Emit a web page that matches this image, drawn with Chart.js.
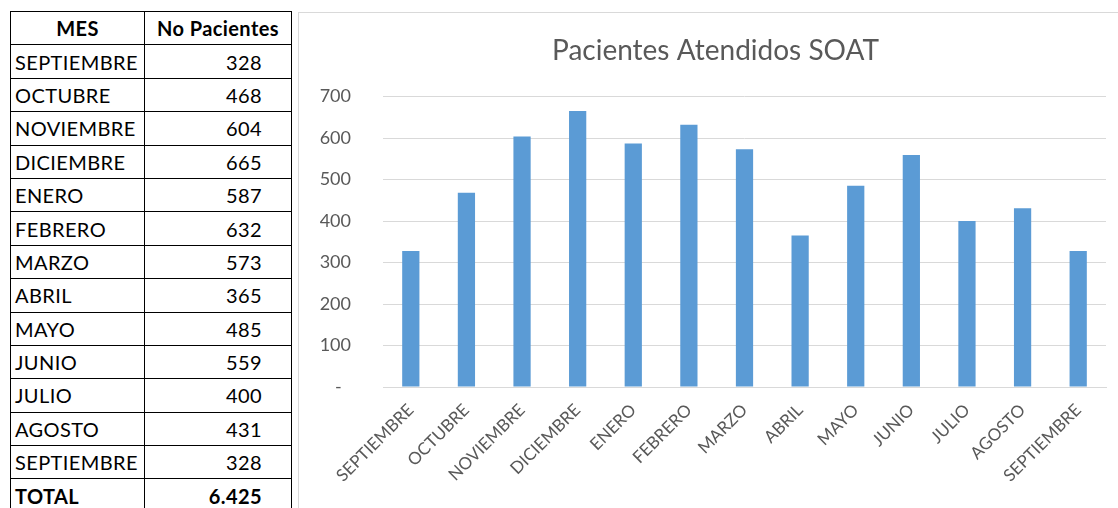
<!DOCTYPE html>
<html>
<head>
<meta charset="utf-8">
<script src="https://cdn.jsdelivr.net/npm/chart.js@4"></script>
<style>
  body { margin: 0; background: #fff; width: 1118px; height: 508px; overflow: hidden; position: relative; font-family: Lato, "Open Sans", sans-serif; }
  #tabla { position: absolute; left: 10px; top: 11px; border-collapse: collapse; font-size: 20px; letter-spacing: 0.4px; color: #000; }
  #tabla td, #tabla th { border: 1px solid #000; height: 33.4px; padding: 0 4px; box-sizing: border-box; line-height: 1; }
  #tabla th { font-weight: bold; text-align: center; }
  #tabla td.mes { width: 134px; text-align: left; }
  #tabla td.num { width: 147px; text-align: right; padding-right: 29px; }
  #tabla tr.total td { font-weight: bold; }
  #marco { position: absolute; left: 298px; top: 12px; width: 820px; height: 496px; border-left: 1px solid #d9d9d9; border-top: 1px solid #d9d9d9; box-sizing: border-box; }
</style>
</head>
<body>

<table id="tabla">
  <thead>
    <tr><th>MES</th><th>No Pacientes</th></tr>
  </thead>
  <tbody id="filas"></tbody>
</table>

<div id="marco">
  <canvas id="grafico" width="819" height="495"></canvas>
</div>

<script>
// =========================
// DATOS
// =========================

const meses = [
  'SEPTIEMBRE', 'OCTUBRE', 'NOVIEMBRE', 'DICIEMBRE', 'ENERO', 'FEBRERO',
  'MARZO', 'ABRIL', 'MAYO', 'JUNIO', 'JULIO', 'AGOSTO', 'SEPTIEMBRE'
];

const pacientes = [
  328, 468, 604, 665, 587, 632,
  573, 365, 485, 559, 400, 431, 328
];

const yMin = 0;
const yMax = 700;
const yPaso = 100;

const titulo = 'Pacientes Atendidos SOAT';


// =========================
// TABLA
// =========================

const filas = document.getElementById('filas');

meses.forEach((mes, i) => {
  filas.innerHTML +=
    '<tr><td class="mes">' + mes + '</td>' +
    '<td class="num">' + pacientes[i] + '</td></tr>';
});

const total = pacientes.reduce((a, b) => a + b, 0);

filas.innerHTML +=
  '<tr class="total"><td class="mes">TOTAL</td>' +
  '<td class="num">' + total.toLocaleString('de-DE') + '</td></tr>';


// =========================
// GRAFICO
// =========================

const fuente = 'Lato, "Open Sans", sans-serif';

// corre el titulo un poco a la derecha, como en la hoja
const moverTitulo = {
  id: 'moverTitulo',
  afterLayout(chart) {
    if (chart.titleBlock) chart.titleBlock.left += 26;
  }
};

new Chart(document.getElementById('grafico'), {

  type: 'bar',

  data: {
    labels: meses,
    datasets: [{
      data: pacientes,
      backgroundColor: '#5b9bd5',
      barPercentage: 0.31,
      categoryPercentage: 1
    }]
  },

  plugins: [moverTitulo],

  options: {
    responsive: false,
    animation: false,
    layout: { padding: { left: 0, right: 12, top: 0, bottom: 0 } },
    plugins: {
      legend: { display: false },
      tooltip: { enabled: false },
      title: {
        display: true,
        text: titulo,
        color: '#595959',
        font: { family: fuente, size: 28, weight: 'normal' },
        padding: { top: 21, bottom: 29 }
      }
    },
    scales: {
      x: {
        grid: { display: false },
        border: { display: true, color: '#d9d9d9', width: 1 },
        ticks: {
          color: '#595959',
          font: { family: fuente, size: 17 },
          minRotation: 45,
          maxRotation: 45,
          padding: 5,
          autoSkip: false
        },
        afterFit: scale => { scale.height = 121; }
      },
      y: {
        min: yMin,
        max: yMax,
        grid: { color: '#d9d9d9', drawTicks: false },
        border: { display: false },
        ticks: {
          stepSize: yPaso,
          color: '#595959',
          font: { family: fuente, size: 18 },
          padding: 32,
          callback: v => v === 0 ? '-  ' : v
        },
        afterFit: scale => { scale.width = 84; }
      }
    }
  }
});
</script>
</body>
</html>
